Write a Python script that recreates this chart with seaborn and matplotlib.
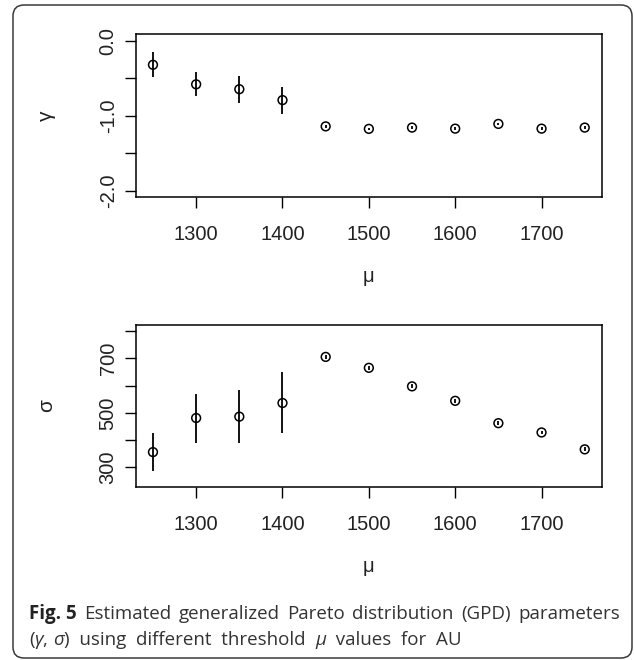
import numpy as np
import pandas as pd
import matplotlib
matplotlib.use("Agg")
import matplotlib.pyplot as plt
import seaborn as sns
from matplotlib.patches import FancyBboxPatch
from matplotlib.transforms import IdentityTransform

# data
mu = [1250, 1300, 1350, 1400, 1450, 1500, 1550, 1600, 1650, 1700, 1750]
gamma = [-0.32, -0.58, -0.645, -0.79, -1.14, -1.173, -1.156, -1.17, -1.107, -1.17, -1.156]
gamma_lo = [-0.476, -0.74, -0.83, -0.98, -1.16, -1.19, -1.175, -1.19, -1.125, -1.19, -1.175]
gamma_hi = [-0.156, -0.42, -0.47, -0.61, -1.12, -1.155, -1.138, -1.15, -1.09, -1.15, -1.138]
sigma = [356, 481, 486, 536, 705, 665, 597, 544, 462, 428, 366]
sigma_lo = [286, 389, 389, 427, 698, 658, 590, 537, 455, 421, 359]
sigma_hi = [425, 570, 585, 649, 712, 672, 604, 551, 469, 435, 373]

df = pd.DataFrame({"mu": mu, "gamma": gamma, "gamma_lo": gamma_lo, "gamma_hi": gamma_hi,
                   "sigma": sigma, "sigma_lo": sigma_lo, "sigma_hi": sigma_hi})

sns.set_theme(style="ticks")
plt.rcParams["font.family"] = ["Liberation Sans", "DejaVu Sans"]

W, H = 634, 660
fig = plt.figure(figsize=(W / 100, H / 100), dpi=100)
fig.patch.set_facecolor("white")

# rounded frame around everything
frame = FancyBboxPatch((13, 2), 619, 653, boxstyle="round,pad=0,rounding_size=11",
                       transform=IdentityTransform(), fill=False, ec="#3a3a3a", lw=1.1)
fig.patches.append(frame)

left, width = 135.7 / W, (602 - 135.7) / W
ax1 = fig.add_axes([left, 1 - 197 / H, width, 163 / H])
ax2 = fig.add_axes([left, 1 - 487 / H, width, 162 / H])

panels = [
    (ax1, "gamma", "gamma_lo", "gamma_hi", "γ", (-2.08, 0.09), [0, -0.5, -1, -1.5, -2],
     ["0.0", "", "-1.0", "", "-2.0"]),
    (ax2, "sigma", "sigma_lo", "sigma_hi", "σ", (228, 822), [300, 400, 500, 600, 700, 800],
     ["300", "", "500", "", "700", ""]),
]

for ax, col, lo, hi, lab, ylim, yt, ytl in panels:
    ax.vlines(df["mu"], df[lo], df[hi], color="black", lw=1.3, zorder=2)
    sns.scatterplot(data=df, x="mu", y=col, ax=ax, marker="o", s=40,
                    facecolor="none", edgecolor="black", linewidth=1.1, zorder=3)
    ax.set_xlim(1230, 1770)
    ax.set_ylim(*ylim)
    ax.set_xticks([1300, 1400, 1500, 1600, 1700])
    ax.set_yticks(yt)
    ax.set_yticklabels(ytl, rotation=90, va="center")
    for s in ax.spines.values():
        s.set_visible(True)
        s.set_linewidth(1.1)
        s.set_color("black")
    ax.tick_params(axis="both", direction="out", length=8, width=1.0, color="black",
                   labelsize=14.5, labelcolor="#222222")
    ax.tick_params(axis="x", pad=12)
    ax.tick_params(axis="y", pad=5)
    ax.set_xlabel("μ", fontsize=14.5, color="#222222")
    ax.xaxis.set_label_coords(0.5, -70 / 163)
    ax.set_ylabel(lab, fontsize=15, color="#222222", rotation=90)
    ax.yaxis.set_label_coords(-80 / 466, 0.5)

# caption, justified first line
fig.canvas.draw()
renderer = fig.canvas.get_renderer()
cap_color = "#333333"
cap_size = 13.5


def word_width(t, **kw):
    tx = fig.text(0, 0, t, fontsize=cap_size, family="Open Sans", **kw)
    w = tx.get_window_extent(renderer).width
    tx.remove()
    return w


line1 = [("Fig. 5", "bold"), ("Estimated", "normal"), ("generalized", "normal"),
         ("Pareto", "normal"), ("distribution", "normal"), ("(GPD)", "normal"),
         ("parameters", "normal")]
x0, x1 = 29, 620
y1 = H - 614
widths = [word_width(t, fontweight=w) for t, w in line1]
gap = (x1 - x0 - sum(widths)) / (len(line1) - 1)
x = x0
for (t, w), ww in zip(line1, widths):
    fig.text(x / W, y1 / H, t, fontsize=cap_size, family="Open Sans", fontweight=w,
             color="#222222" if w == "bold" else cap_color, va="center", ha="left")
    x += ww + gap

line2 = [("(", "normal"), ("γ", "italic"), (", ", "normal"), ("σ", "italic"),
         (")  using  different  threshold  ", "normal"), ("μ", "italic"),
         ("  values  for  AU", "normal")]
y2 = H - 640
x = x0
for t, st in line2:
    tx = fig.text(x / W, y2 / H, t, fontsize=cap_size, family="Open Sans", fontstyle=st,
                  color=cap_color, va="center", ha="left")
    x += tx.get_window_extent(renderer).width

fig.savefig("out.png", dpi=100)
